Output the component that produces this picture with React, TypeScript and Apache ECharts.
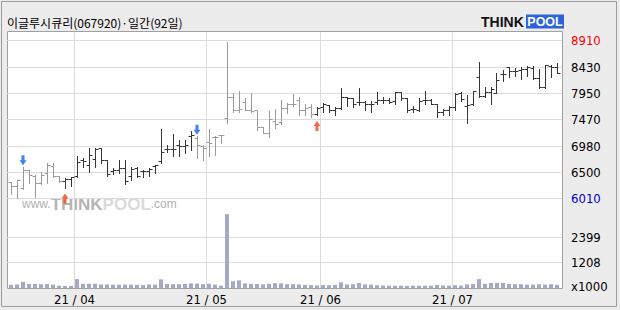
import React, { useEffect, useRef } from 'react';
import * as echarts from 'echarts';

const title = '이글루시큐리(067920)·일간(92일)';

const dates = [
  '21/03/17', '21/03/18', '21/03/19', '21/03/22', '21/03/23', '21/03/24', '21/03/25', '21/03/26', '21/03/29', '21/03/30', '21/03/31',
  '21/04/01', '21/04/02', '21/04/05', '21/04/06', '21/04/07', '21/04/08', '21/04/09', '21/04/12', '21/04/13', '21/04/14', '21/04/15',
  '21/04/16', '21/04/19', '21/04/20', '21/04/21', '21/04/22', '21/04/23', '21/04/26', '21/04/27', '21/04/28', '21/04/29', '21/04/30',
  '21/05/03', '21/05/04', '21/05/06', '21/05/07', '21/05/10', '21/05/11', '21/05/12', '21/05/13', '21/05/14', '21/05/17', '21/05/18',
  '21/05/20', '21/05/21', '21/05/24', '21/05/25', '21/05/26', '21/05/27', '21/05/28', '21/05/31',
  '21/06/01', '21/06/02', '21/06/03', '21/06/04', '21/06/07', '21/06/08', '21/06/09', '21/06/10', '21/06/11', '21/06/14', '21/06/15',
  '21/06/16', '21/06/17', '21/06/18', '21/06/21', '21/06/22', '21/06/23', '21/06/24', '21/06/25', '21/06/28', '21/06/29', '21/06/30',
  '21/07/01', '21/07/02', '21/07/05', '21/07/06', '21/07/07', '21/07/08', '21/07/09', '21/07/12', '21/07/13', '21/07/14', '21/07/15',
  '21/07/16', '21/07/19', '21/07/20', '21/07/21', '21/07/22', '21/07/23', '21/07/26',
];

const opens = [
  6320, 6240, 6210, 6530, 6420, 6290, 6480, 6600, 6420, 6330,
  6360, 6420, 6710, 6630, 6730, 6940, 6710, 6510, 6540, 6570,
  6420, 6570, 6510, 6510, 6600, 6700, 6910, 6920, 7000, 6980,
  7160, 7120, 6970, 7050, 7140, 7170, 7490, 7880, 7640, 7780,
  7630, 7630, 7330, 7220, 7440, 7420, 7670, 7750, 7810, 7640,
  7690, 7560, 7690, 7720, 7640, 7670, 7880, 7860, 7780, 7780,
  7740, 7780, 7810, 7810, 7800, 7960, 7860, 7660, 7640, 7810,
  7810, 7750, 7600, 7640, 7690, 7950, 7710, 7740, 8240, 7890,
  7960, 7950, 8290, 8420, 8350, 8370, 8380, 8400, 8220, 8060,
  8440, 8430,
];
const highs = [
  6330, 6350, 6600, 6540, 6450, 6510, 6670, 6670, 6430, 6390,
  6420, 6800, 6760, 6940, 6940, 6940, 6730, 6570, 6730, 6730,
  6590, 6590, 6540, 6570, 6630, 7300, 7000, 7200, 7090, 7090,
  7260, 7160, 7000, 7300, 7160, 7190, 8890, 7950, 7990, 7860,
  7960, 7630, 7340, 7630, 7660, 7830, 7780, 7930, 7890, 7750,
  7750, 7690, 7770, 7740, 7690, 8040, 7890, 7860, 8040, 7800,
  7800, 7980, 7890, 7870, 7980, 7980, 7860, 7710, 7860, 7990,
  7840, 7750, 7670, 7710, 7960, 7980, 7910, 7990, 8520, 8070,
  8060, 8320, 8370, 8430, 8410, 8440, 8460, 8450, 8390, 8470,
  8470, 8500,
];
const lows = [
  6110, 6020, 6190, 6300, 6050, 6290, 6300, 6420, 6330, 6220,
  6240, 6410, 6590, 6510, 6600, 6670, 6440, 6470, 6480, 6290,
  6360, 6420, 6420, 6430, 6490, 6670, 6880, 6790, 6800, 6860,
  6900, 6760, 6730, 6790, 6810, 7030, 7400, 7610, 7610, 7640,
  7600, 7280, 7220, 7140, 7310, 7380, 7580, 7720, 7550, 7550,
  7510, 7550, 7600, 7600, 7560, 7660, 7720, 7690, 7740, 7640,
  7600, 7750, 7780, 7770, 7750, 7830, 7610, 7600, 7630, 7750,
  7750, 7510, 7550, 7560, 7640, 7810, 7410, 7740, 7890, 7880,
  7750, 7950, 8180, 8240, 8270, 8220, 8270, 8210, 8040, 8040,
  8240, 8320,
];
const closes = [
  6240, 6350, 6540, 6450, 6290, 6450, 6630, 6430, 6330, 6360,
  6400, 6680, 6700, 6800, 6920, 6710, 6460, 6530, 6570, 6330,
  6560, 6430, 6510, 6560, 6620, 6860, 6920, 6920, 6980, 7000,
  7170, 7000, 6940, 7030, 7140, 7170, 7880, 7630, 7660, 7640,
  7610, 7330, 7220, 7460, 7370, 7670, 7750, 7750, 7630, 7670,
  7560, 7670, 7740, 7640, 7670, 7880, 7860, 7750, 7780, 7740,
  7740, 7810, 7810, 7780, 7960, 7860, 7640, 7660, 7800, 7810,
  7750, 7600, 7630, 7690, 7920, 7840, 7720, 7980, 7900, 7970,
  8020, 8190, 8290, 8350, 8350, 8380, 8420, 8220, 8060, 8460,
  8430, 8320,
];
// volume, x1000 shares
const volumes = [
  150, 170, 290, 190, 190, 180, 190, 160, 110, 100,
  100, 420, 200, 200, 200, 170, 170, 160, 160, 160,
  160, 150, 140, 170, 160, 410, 190, 180, 180, 190,
  220, 210, 180, 200, 160, 110, 3500, 320, 360, 220,
  200, 190, 170, 200, 230, 220, 180, 180, 170, 150,
  140, 120, 140, 130, 150, 270, 170, 180, 240, 170,
  160, 130, 120, 110, 110, 110, 100, 110, 110, 110,
  110, 150, 120, 110, 130, 110, 170, 190, 420, 200,
  240, 240, 240, 190, 180, 180, 160, 160, 180, 160,
  180, 150,
];

const buySignals = [9, 51];
const sellSignals = [2, 31];

const priceTicks = [8910, 8430, 7950, 7470, 6980, 6500, 6010];
const priceMin = 5771;
const priceMax = 9075;
const volumeTicks = [2399, 1208];
const volumeMax = 3600;
const volumeUnit = 'x1000';

const NARROW = '"Liberation Sans Narrow", "DejaVu Sans Condensed", "Liberation Sans", sans-serif';
const LABEL_FONT = '13px ' + NARROW;

const monthStarts: number[] = dates
  .map((d, i) => (i > 0 && d.slice(0, 5) !== dates[i - 1].slice(0, 5) ? i : -1))
  .filter((i) => i >= 0);

// trend state: gray after a sell signal, dark after a buy signal
const trendDark: boolean[] = (() => {
  let dark = false;
  return dates.map((_, i) => {
    if (buySignals.includes(i)) dark = true;
    if (sellSignals.includes(i)) dark = false;
    return dark;
  });
})();

const crisp = (v: number) => Math.floor(v) + 0.5;

function monthLineSeries(xIdx: number) {
  return {
    type: 'custom',
    xAxisIndex: xIdx,
    yAxisIndex: xIdx,
    silent: true,
    z: 1,
    data: monthStarts.map((i) => [i, 0]),
    renderItem: (params: any, api: any) => {
      const cs = params.coordSys;
      const band = api.size([1, 0])[0];
      const x = crisp(api.coord([api.value(0), 0])[0] - band / 2);
      return {
        type: 'line',
        shape: { x1: x, y1: cs.y, x2: x, y2: cs.y + cs.height },
        style: { stroke: '#dcdcdc', lineWidth: 1 },
      };
    },
  };
}

function hLineSeries(idx: number, ticks: number[], colorOf: (k: number) => string) {
  return {
    type: 'custom',
    xAxisIndex: idx,
    yAxisIndex: idx,
    silent: true,
    z: 1,
    data: ticks.map((v, k) => [0, v, k]),
    renderItem: (params: any, api: any) => {
      const cs = params.coordSys;
      const y = api.coord([0, api.value(1)])[1];
      const yc = crisp(y);
      const k = api.value(2);
      return {
        type: 'group',
        children: [
          {
            type: 'line',
            shape: { x1: cs.x - 1, y1: yc, x2: cs.x + cs.width + 2, y2: yc },
            style: { stroke: '#dcdcdc', lineWidth: 1 },
          },
          {
            type: 'text',
            x: cs.x + cs.width + 11,
            y: y,
            style: {
              text: String(ticks[k]),
              fill: colorOf(k),
              font: LABEL_FONT,
              align: 'left',
              verticalAlign: 'middle',
            },
          },
        ],
      };
    },
  };
}

const option: any = {
  animation: false,
  backgroundColor: '#ececec',
  graphic: [
    {
      type: 'rect',
      z: -5,
      shape: { x: 1.5, y: 1.5, width: 615, height: 305 },
      style: { fill: '#ececec', stroke: '#9c9c9c', lineWidth: 1 },
    },
    {
      type: 'rect',
      z: -4,
      shape: { x: 7.5, y: 31.5, width: 555, height: 257 },
      style: { fill: '#ffffff', stroke: '#a0a0a0', lineWidth: 1 },
    },
    {
      type: 'text',
      z: 0,
      x: 7,
      y: 22,
      style: {
        text: title,
        font: '12px "Noto Sans CJK KR", sans-serif',
        fill: '#000000',
        align: 'left',
        verticalAlign: 'middle',
      },
    },
    {
      type: 'text',
      z: 0,
      x: 481,
      y: 22,
      style: {
        text: 'THINK',
        font: 'bold 14px "Liberation Sans", Arial, sans-serif',
        fill: '#111111',
        align: 'left',
        verticalAlign: 'middle',
      },
    },
    {
      type: 'rect',
      z: 0,
      shape: { x: 526, y: 14.5, width: 38, height: 14 },
      style: { fill: '#2c63d8' },
    },
    {
      type: 'text',
      z: 0,
      x: 545,
      y: 22,
      style: {
        text: 'POOL',
        font: 'bold 12.5px "Liberation Sans", Arial, sans-serif',
        fill: '#ffffff',
        align: 'center',
        verticalAlign: 'middle',
      },
    },
    {
      type: 'text',
      z: 0,
      x: 22,
      y: 204,
      style: {
        text: '{a|www.}{b|THINK}{c|POOL}{a|.com}',
        align: 'left',
        verticalAlign: 'middle',
        rich: {
          a: { font: '12px "Liberation Sans", Arial, sans-serif', fill: '#b0b0b0' },
          b: { font: 'bold 17px "Liberation Sans", Arial, sans-serif', fill: '#b4b4b4' },
          c: { font: 'bold 17px "Liberation Sans", Arial, sans-serif', fill: '#dadada' },
        },
      },
    },
  ],
  grid: [
    { left: 8, width: 552, top: 32, height: 180, show: false },
    { left: 8, width: 552, top: 212, height: 76, show: false },
  ],
  xAxis: [
    {
      type: 'category',
      gridIndex: 0,
      data: dates,
      boundaryGap: true,
      axisLine: { show: false },
      axisTick: { show: false },
      axisLabel: { show: false },
      splitLine: { show: false },
    },
    {
      type: 'category',
      gridIndex: 1,
      data: dates,
      boundaryGap: true,
      axisLine: { show: false },
      axisTick: { show: false },
      splitLine: { show: false },
      axisLabel: {
        show: true,
        interval: (idx: number) => monthStarts.includes(idx),
        formatter: (val: string) => val.slice(0, 2) + ' / ' + val.slice(3, 5),
        margin: 5,
        color: '#000000',
        fontSize: 13,
        fontFamily: NARROW,
        padding: [0, 5, 0, 0],
      },
    },
  ],
  yAxis: [
    { type: 'value', gridIndex: 0, min: priceMin, max: priceMax, show: false, splitLine: { show: false } },
    { type: 'value', gridIndex: 1, min: 0, max: volumeMax, show: false, splitLine: { show: false } },
  ],
  series: [
    monthLineSeries(0),
    monthLineSeries(1),
    hLineSeries(0, priceTicks, (k) => (k === 0 ? '#ff0000' : k === priceTicks.length - 1 ? '#0000cc' : '#000000')),
    hLineSeries(1, volumeTicks, () => '#000000'),
    {
      type: 'custom',
      xAxisIndex: 1,
      yAxisIndex: 1,
      silent: true,
      z: 1,
      data: [[0, 0]],
      renderItem: (params: any, api: any) => {
        const cs = params.coordSys;
        const y = api.coord([0, 0])[1];
        return {
          type: 'text',
          x: cs.x + cs.width + 11,
          y: y - 2,
          style: { text: volumeUnit, fill: '#000000', font: LABEL_FONT, align: 'left', verticalAlign: 'middle' },
        };
      },
    },
    {
      type: 'custom',
      name: 'price',
      xAxisIndex: 0,
      yAxisIndex: 0,
      z: 3,
      silent: true,
      data: dates.map((_, i) => [i, opens[i], highs[i], lows[i], closes[i]]),
      encode: { x: 0, y: [1, 2, 3, 4] },
      renderItem: (params: any, api: any) => {
        const i = api.value(0);
        const pO = api.coord([i, api.value(1)]);
        const pH = api.coord([i, api.value(2)]);
        const pL = api.coord([i, api.value(3)]);
        const pC = api.coord([i, api.value(4)]);
        const x = crisp(pH[0]);
        const color = trendDark[params.dataIndex] ? '#363636' : '#9a9a9a';
        const style = { stroke: color, lineWidth: 1 };
        const yo = crisp(pO[1]);
        const yc = crisp(pC[1]);
        return {
          type: 'group',
          children: [
            { type: 'line', shape: { x1: x, y1: Math.round(pH[1]), x2: x, y2: Math.round(pL[1]) + 1 }, style },
            { type: 'line', shape: { x1: x - 3, y1: yo, x2: x, y2: yo }, style },
            { type: 'line', shape: { x1: x, y1: yc, x2: x + 3, y2: yc }, style },
          ],
        };
      },
    },
    {
      type: 'scatter',
      xAxisIndex: 0,
      yAxisIndex: 0,
      z: 4,
      silent: true,
      data: sellSignals.map((i) => [i, highs[i]]),
      symbol: 'path://M2,0L5,0L5,5L7,5L3.5,10L0,5L2,5Z',
      symbolSize: [7, 10],
      symbolOffset: [0, -6.5],
      itemStyle: { color: '#1762ea' },
    },
    {
      type: 'scatter',
      xAxisIndex: 0,
      yAxisIndex: 0,
      z: 4,
      silent: true,
      data: buySignals.map((i) => [i, lows[i]]),
      symbol: 'path://M3.5,0L7,5L5,5L5,10L2,10L2,5L0,5Z',
      symbolSize: [7, 10],
      symbolOffset: [0, 11],
      itemStyle: { color: '#ee4616' },
    },
    {
      type: 'bar',
      name: 'volume',
      xAxisIndex: 1,
      yAxisIndex: 1,
      z: 3,
      silent: true,
      data: volumes,
      barWidth: 4,
      itemStyle: { color: '#a3aac5' },
    },
  ],
};

export default function App() {
  const ref = useRef<HTMLDivElement>(null);
  useEffect(() => {
    if (!ref.current) return;
    const chart = echarts.init(ref.current, null, { renderer: 'svg' });
    chart.setOption(option);
    return () => {
      chart.dispose();
    };
  }, []);
  return <div ref={ref} style={{ position: 'absolute', left: 0, top: 0, width: 620, height: 310 }} />;
}
